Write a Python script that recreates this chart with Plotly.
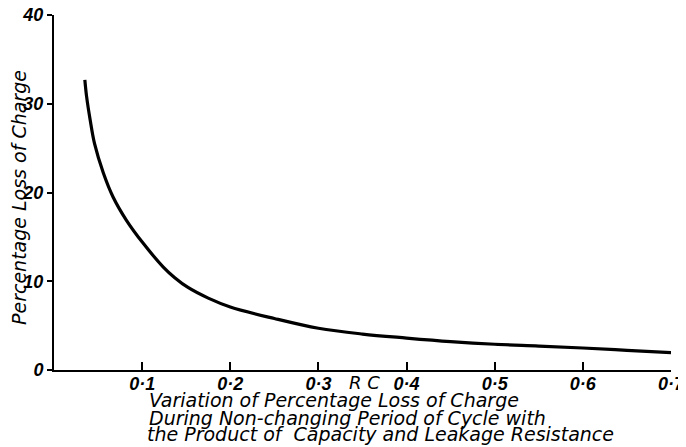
import plotly.graph_objects as go

# Data
rc = [0.035, 0.037, 0.041, 0.046, 0.056, 0.067, 0.082, 0.101, 0.124, 0.137,
      0.152, 0.175, 0.20, 0.25, 0.30, 0.35, 0.40, 0.45, 0.50, 0.55,
      0.60, 0.65, 0.70]
loss = [32.7, 30.8, 28.2, 25.5, 22.2, 19.5, 16.9, 14.3, 11.6, 10.4,
        9.3, 8.1, 7.1, 5.8, 4.7, 4.05, 3.6, 3.2, 2.9, 2.7,
        2.48, 2.22, 1.95]

x_tickvals = [0.1, 0.2, 0.3, 0.4, 0.5, 0.6, 0.7]
x_ticktext = ["0·1", "0·2", "0·3", "0·4", "0·5", "0·6", "0·7"]
y_tickvals = [0, 10, 20, 30, 40]
y_ticktext = ["0", "10", "20", "30", "40"]

y_title = "Percentage Loss of Charge"
x_axis_symbol = "R\u00a0C"
title_lines = [
    "Variation of Percentage Loss of Charge",
    "During Non-changing Period of Cycle with",
    "the Product of\u00a0 Capacity and Leakage Resistance",
]

FONT = "DejaVu Sans, Liberation Sans, sans-serif"
TICKFONT = "Liberation Sans, Arial, sans-serif"

fig = go.Figure()
fig.add_trace(go.Scatter(
    x=rc, y=loss, mode="lines",
    line=dict(color="black", width=3.2, shape="spline", smoothing=1.0),
    showlegend=False, hoverinfo="skip",
))

# The page body adds an 8px margin, so the figure is sized to fit inside the window.
fig.update_layout(
    width=678, height=439,
    margin=dict(l=46, r=15, t=7, b=77, autoexpand=False),
    paper_bgcolor="white", plot_bgcolor="white",
    font=dict(family=FONT, color="black", style="italic"),
    xaxis=dict(
        range=[0, 0.7], showgrid=False, zeroline=False, automargin=False,
        showline=True, linecolor="black", linewidth=2,
        ticks="inside", ticklen=8, tickwidth=1.5, tickcolor="black",
        tickvals=x_tickvals, ticktext=x_ticktext, ticklabeloverflow="allow",
        ticklabelstandoff=-4,
        tickfont=dict(family=TICKFONT, size=18, style="italic", weight="bold",
                      color="black"),
    ),
    yaxis=dict(
        range=[0, 40], showgrid=False, zeroline=False, automargin=False,
        showline=True, linecolor="black", linewidth=2,
        ticks="outside", ticklen=5, tickwidth=1.5, tickcolor="black",
        tickvals=y_tickvals, ticktext=y_ticktext, ticklabeloverflow="allow",
        ticklabelstandoff=0,
        tickfont=dict(family=TICKFONT, size=18, style="italic", weight="bold",
                      color="black"),
    ),
)

fig.add_annotation(
    x=0, y=0.4845, xref="paper", yref="paper", xshift=-35,
    text=y_title, textangle=-90, showarrow=False,
    xanchor="center", yanchor="middle",
    font=dict(family=FONT, size=19, style="italic", color="black"),
)

fig.add_annotation(
    x=0.352, y=0, xref="x", yref="paper", yshift=-12,
    text=x_axis_symbol, showarrow=False, xanchor="center", yanchor="middle",
    font=dict(family=FONT, size=18, style="italic", color="black"),
)

shifts = [-30, -48, -64]
lefts = [0.1053, 0.1053, 0.103]
for line, ys, xl in zip(title_lines, shifts, lefts):
    fig.add_annotation(
        x=xl, y=0, xref="x", yref="paper", yshift=ys,
        text=line, showarrow=False, xanchor="left", yanchor="middle",
        font=dict(family=FONT, size=19, style="italic", color="black"),
    )

fig.write_html("out.html")
